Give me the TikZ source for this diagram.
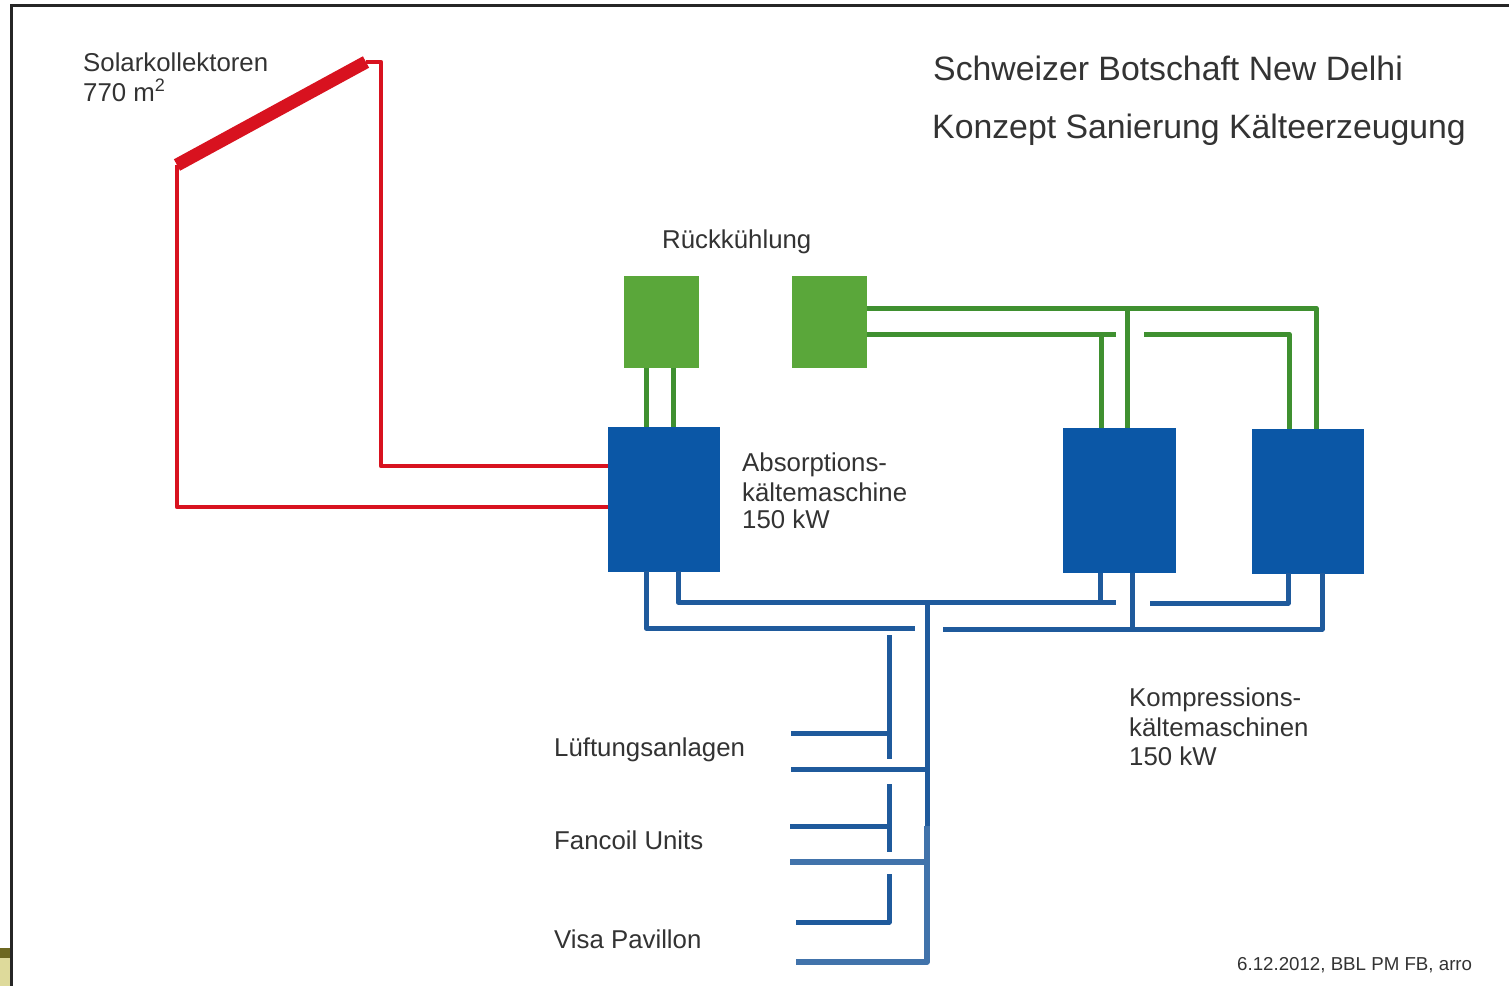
\documentclass[tikz,border=0pt]{standalone}
\usepackage{fontspec}
\setmainfont{Liberation Sans}
\definecolor{pipered}{HTML}{D8121F}
\definecolor{pipegreen}{HTML}{3F9030}
\definecolor{boxgreen}{HTML}{5AA73A}
\definecolor{boxblue}{HTML}{0B57A6}
\definecolor{pipeblue}{HTML}{1F5A9C}
\definecolor{labelgrey}{HTML}{333333}
\tikzset{
  redpipe/.style={draw=pipered,line width=4.4pt,line join=round},
  collector/.style={draw=pipered,line width=13pt},
  greenpipe/.style={draw=pipegreen,line width=5pt,line join=round},
  bluepipe/.style={draw=pipeblue,line width=5pt,line join=round},
  speckled/.style={draw=pipeblue!85,line width=5.5pt,line join=round},
  greenbox/.style={fill=boxgreen,draw=none,inner sep=0pt,minimum width=75pt,minimum height=92pt},
  bluebox/.style={fill=boxblue,draw=none,inner sep=0pt,minimum width=112pt,minimum height=145pt},
  lab/.style={anchor=base west,inner sep=0pt,text=labelgrey,font=\fontsize{25.8}{29}\selectfont,align=left},
  titlelab/.style={anchor=base west,inner sep=0pt,text=labelgrey,font=\fontsize{33.8}{36}\selectfont},
  datelab/.style={anchor=base west,inner sep=0pt,text=labelgrey,font=\fontsize{18.7}{20}\selectfont},
}
\begin{document}
\begin{tikzpicture}[x=1pt,y=-1pt]
\useasboundingbox (0,0) rectangle (1509,986);
% frame and image remnant
\fill[white] (0,0) rectangle (1509,986);
\fill[black!85] (10,4) rectangle (1509,6.5);
\fill[olive!70!black] (0,948) rectangle (10,986);
\fill[olive!30] (0,958) rectangle (10,986);
\fill[black!85] (10,4) rectangle (12.5,986);

% boxes
\node[greenbox] (g1) at (661.5,322) {};
\node[greenbox] (g2) at (829.5,322) {};
\node[bluebox] (abs) at (664,499) {};
\node[bluebox,minimum width=113pt] (k1) at (1119.5,500.5) {};
\node[bluebox] (k2) at (1307.5,501) {};

% collector
\coordinate (colA) at (177,165);
\coordinate (colB) at (366,62);
\draw[collector] (colA) -- (colB);
% red pipes
\coordinate (rA) at (177,507);
\coordinate (rB) at (608,507);
\coordinate (rC) at (381,62);
\coordinate (rD) at (381,466);
\coordinate (rE) at (608,466);
\draw[redpipe] (colA) -- (rA) -- (rB);
\draw[redpipe] (colB) -- (rC) -- (rD) -- (rE);

% green pipes
\coordinate (a1) at (646,368); \coordinate (a2) at (646,427);
\coordinate (a3) at (673,368); \coordinate (a4) at (673,427);
\draw[greenpipe] (a1) -- (a2);
\draw[greenpipe] (a3) -- (a4);
\coordinate (h1) at (867,308); \coordinate (h2) at (1316,308); \coordinate (h3) at (1316,429);
\draw[greenpipe] (h1) -- (h2) -- (h3);
\coordinate (h4) at (867,334); \coordinate (h5) at (1116,334);
\draw[greenpipe] (h4) -- (h5);
\coordinate (h6) at (1101,334); \coordinate (h7) at (1101,428);
\draw[greenpipe] (h6) -- (h7);
\coordinate (h8) at (1127,308); \coordinate (h9) at (1127,428);
\draw[greenpipe] (h8) -- (h9);
\coordinate (h10) at (1144,334); \coordinate (h11) at (1289,334); \coordinate (h12) at (1289,429);
\draw[greenpipe] (h10) -- (h11) -- (h12);

% blue pipes
\coordinate (b1) at (646,571); \coordinate (b2) at (646,628); \coordinate (b3) at (915,628);
\draw[bluepipe] (b1) -- (b2) -- (b3);
\coordinate (b4) at (678,571); \coordinate (b5) at (678,602); \coordinate (b6) at (1116,602);
\draw[bluepipe] (b4) -- (b5) -- (b6);
\coordinate (b7) at (1100,573); \coordinate (b8) at (1100,602);
\draw[bluepipe] (b7) -- (b8);
\coordinate (b9) at (943,629); \coordinate (b10) at (1322,629); \coordinate (b11) at (1322,573);
\draw[bluepipe] (b9) -- (b10) -- (b11);
\coordinate (b12) at (1132,573); \coordinate (b13) at (1132,629);
\draw[bluepipe] (b12) -- (b13);
\coordinate (b14) at (1150,603); \coordinate (b15) at (1288,603); \coordinate (b16) at (1288,573);
\draw[bluepipe] (b14) -- (b15) -- (b16);
% main riser
\coordinate (m1) at (927,602); \coordinate (m2) at (927,826);
\coordinate (m3) at (927,962); \coordinate (m4) at (796,962);
\draw[bluepipe] (m1) -- (m2);
\draw[speckled] (m2) -- (m3) -- (m4);
% branches
\coordinate (v1) at (889,635); \coordinate (v2) at (889,759);
\coordinate (v3) at (889,733); \coordinate (v4) at (791,733);
\draw[bluepipe] (v1) -- (v2);
\draw[bluepipe] (v3) -- (v4);
\coordinate (s1) at (927,769); \coordinate (s2) at (791,769);
\draw[bluepipe] (s1) -- (s2);
\coordinate (v5) at (889,784); \coordinate (v6) at (889,852);
\coordinate (v7) at (889,826); \coordinate (v8) at (790,826);
\draw[bluepipe] (v5) -- (v6);
\draw[bluepipe] (v7) -- (v8);
\coordinate (s3) at (927,862); \coordinate (s4) at (790,862);
\draw[speckled] (s3) -- (s4);
\coordinate (v9) at (889,874); \coordinate (v10) at (889,922); \coordinate (v11) at (796,922);
\draw[bluepipe] (v9) -- (v10) -- (v11);

% labels
\node[lab] (t1) at (83,71) {Solarkollektoren};
\node[lab] (t2) at (83,101) {770 m\textsuperscript{2}};
\node[titlelab] (t3) at (933,80) {Schweizer Botschaft New Delhi};
\node[titlelab] (t4) at (932,138) {Konzept Sanierung Kälteerzeugung};
\node[lab] (t5) at (662,248) {Rückkühlung};
\node[lab] (t6) at (742,471) {Absorptions-};
\node[lab] (t7) at (742,501) {kältemaschine};
\node[lab] (t8) at (742,528) {150 kW};
\node[lab] (t9) at (1129,706) {Kompressions-};
\node[lab] (t10) at (1129,736) {kältemaschinen};
\node[lab] (t11) at (1129,765) {150 kW};
\node[lab] (t12) at (554,756) {Lüftungsanlagen};
\node[lab] (t13) at (554,849) {Fancoil Units};
\node[lab] (t14) at (554,948) {Visa Pavillon};
\node[datelab] (t15) at (1237,970) {6.12.2012, BBL PM FB, arro};
\end{tikzpicture}
\end{document}
